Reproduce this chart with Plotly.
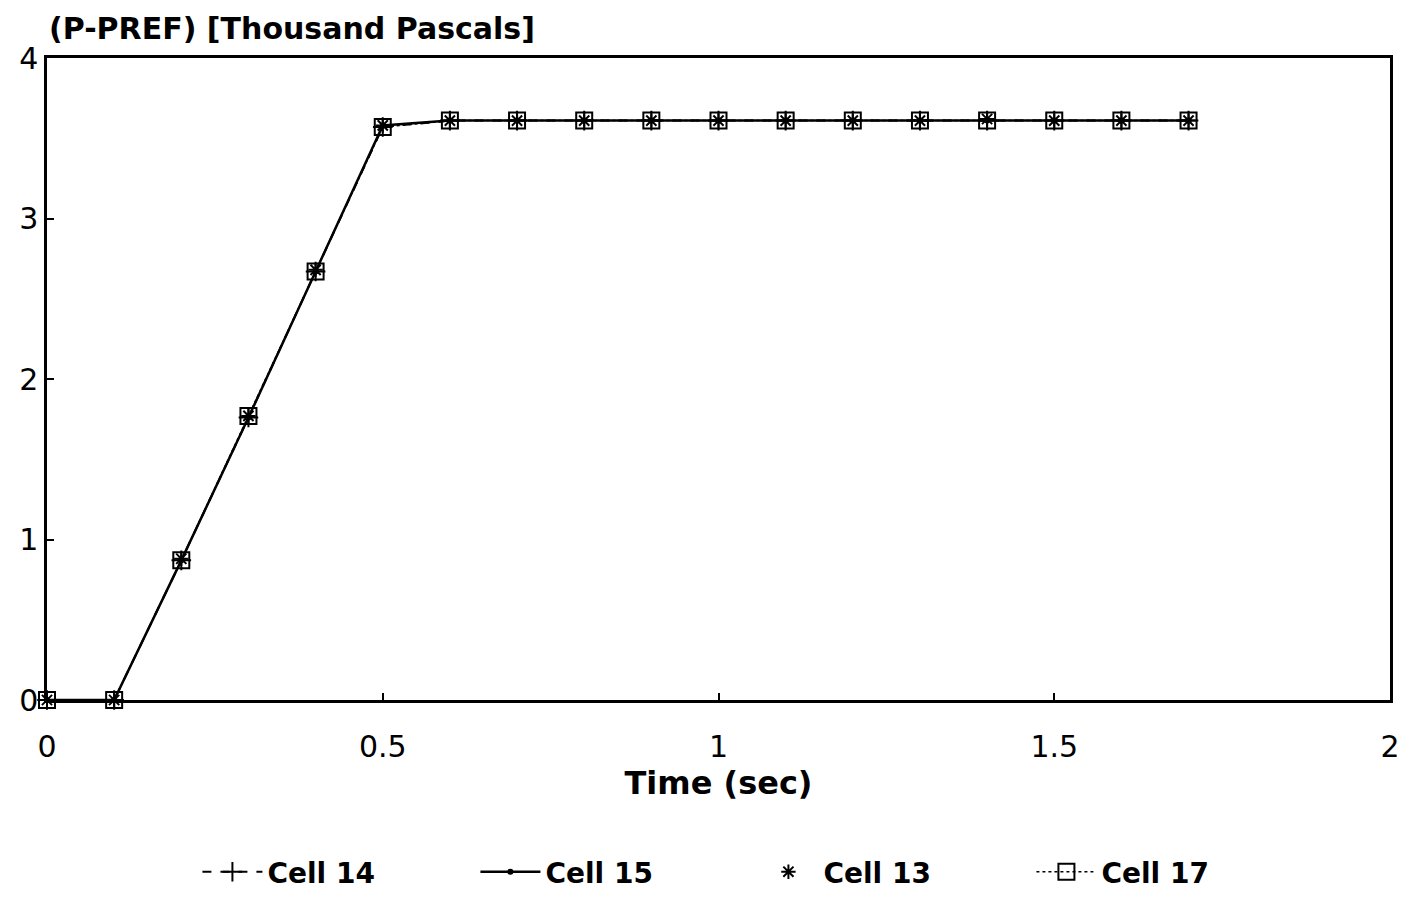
import plotly.graph_objects as go

time_sec = [0, 0.1, 0.2, 0.3, 0.4, 0.5, 0.6, 0.7, 0.8, 0.9, 1.0, 1.1, 1.2, 1.3, 1.4, 1.5, 1.6, 1.7]
cell14 = [0, 0, 0.87, 1.76, 2.67, 3.57, 3.61, 3.61, 3.61, 3.61, 3.61, 3.61, 3.61, 3.61, 3.61, 3.61, 3.61, 3.61]
cell15 = [0, 0, 0.87, 1.76, 2.67, 3.58, 3.61, 3.61, 3.61, 3.61, 3.61, 3.61, 3.61, 3.61, 3.61, 3.61, 3.61, 3.61]
cell13 = [0, 0, 0.88, 1.77, 2.68, 3.58, 3.61, 3.61, 3.61, 3.61, 3.61, 3.61, 3.61, 3.61, 3.62, 3.61, 3.61, 3.61]
cell17 = [0, 0, 0.87, 1.77, 2.67, 3.57, 3.61, 3.61, 3.61, 3.61, 3.61, 3.61, 3.61, 3.61, 3.61, 3.61, 3.61, 3.61]

x_ticks = [0, 0.5, 1, 1.5, 2]
x_tick_labels = ["0", "0.5", "1", "1.5", "2"]
y_ticks = [0, 1, 2, 3, 4]
y_tick_labels = ["0", "1", "2", "3", "4"]

FONT = "DejaVu Sans, Liberation Sans, sans-serif"

fig = go.Figure()
fig.add_trace(go.Scatter(x=time_sec, y=cell14, name="Cell 14", mode="lines+markers",
                         cliponaxis=False,
                         line=dict(color="black", width=2, dash="dash"),
                         marker=dict(symbol="cross-thin-open", size=14, color="black",
                                     line=dict(color="black", width=2))))
fig.add_trace(go.Scatter(x=time_sec, y=cell15, name="Cell 15", mode="lines+markers",
                         cliponaxis=False,
                         line=dict(color="black", width=2.5),
                         marker=dict(symbol="circle", size=6, color="black")))
fig.add_trace(go.Scatter(x=time_sec, y=cell13, name="Cell 13", mode="markers",
                         cliponaxis=False,
                         marker=dict(symbol="asterisk-open", size=12, color="black",
                                     line=dict(color="black", width=2))))
fig.add_trace(go.Scatter(x=time_sec, y=cell17, name="Cell 17", mode="lines+markers",
                         cliponaxis=False,
                         line=dict(color="black", width=1.5, dash="dot"),
                         marker=dict(symbol="square-open", size=16, color="black",
                                     line=dict(color="black", width=2))))

fig.update_layout(
    width=1398, height=887,
    paper_bgcolor="white", plot_bgcolor="white",
    margin=dict(l=39, r=16, t=50, b=195, autoexpand=False),
    font=dict(family=FONT, size=30, color="black"),
    showlegend=True,
    legend=dict(orientation="h", x=0.526, xanchor="center", y=-0.229, yanchor="top",
                font=dict(size=28, weight="bold"), itemwidth=60,
                entrywidth=203, entrywidthmode="pixels"),
    annotations=[dict(text="(P-PREF) [Thousand Pascals]", xref="paper", yref="paper",
                      x=0.0, y=1.0, xanchor="left", yanchor="middle", yshift=30,
                      showarrow=False, font=dict(size=30, family=FONT, weight="bold"))],
)
fig.update_xaxes(range=[0, 2], tickvals=x_ticks, ticktext=x_tick_labels,
                 showgrid=False, zeroline=False, showline=True, mirror=True,
                 linecolor="black", linewidth=2.5, ticks="inside", ticklen=7,
                 tickcolor="black", tickwidth=2, ticklabelstandoff=18,
                 title=dict(text="Time (sec)", font=dict(size=32, weight="bold"), standoff=6))
fig.update_yaxes(range=[0, 4], tickvals=y_ticks, ticktext=y_tick_labels,
                 showgrid=False, zeroline=False, showline=True, mirror=True,
                 linecolor="black", linewidth=2.5, ticks="inside", ticklen=7,
                 tickcolor="black", tickwidth=2)

fig.write_html("out.html")
